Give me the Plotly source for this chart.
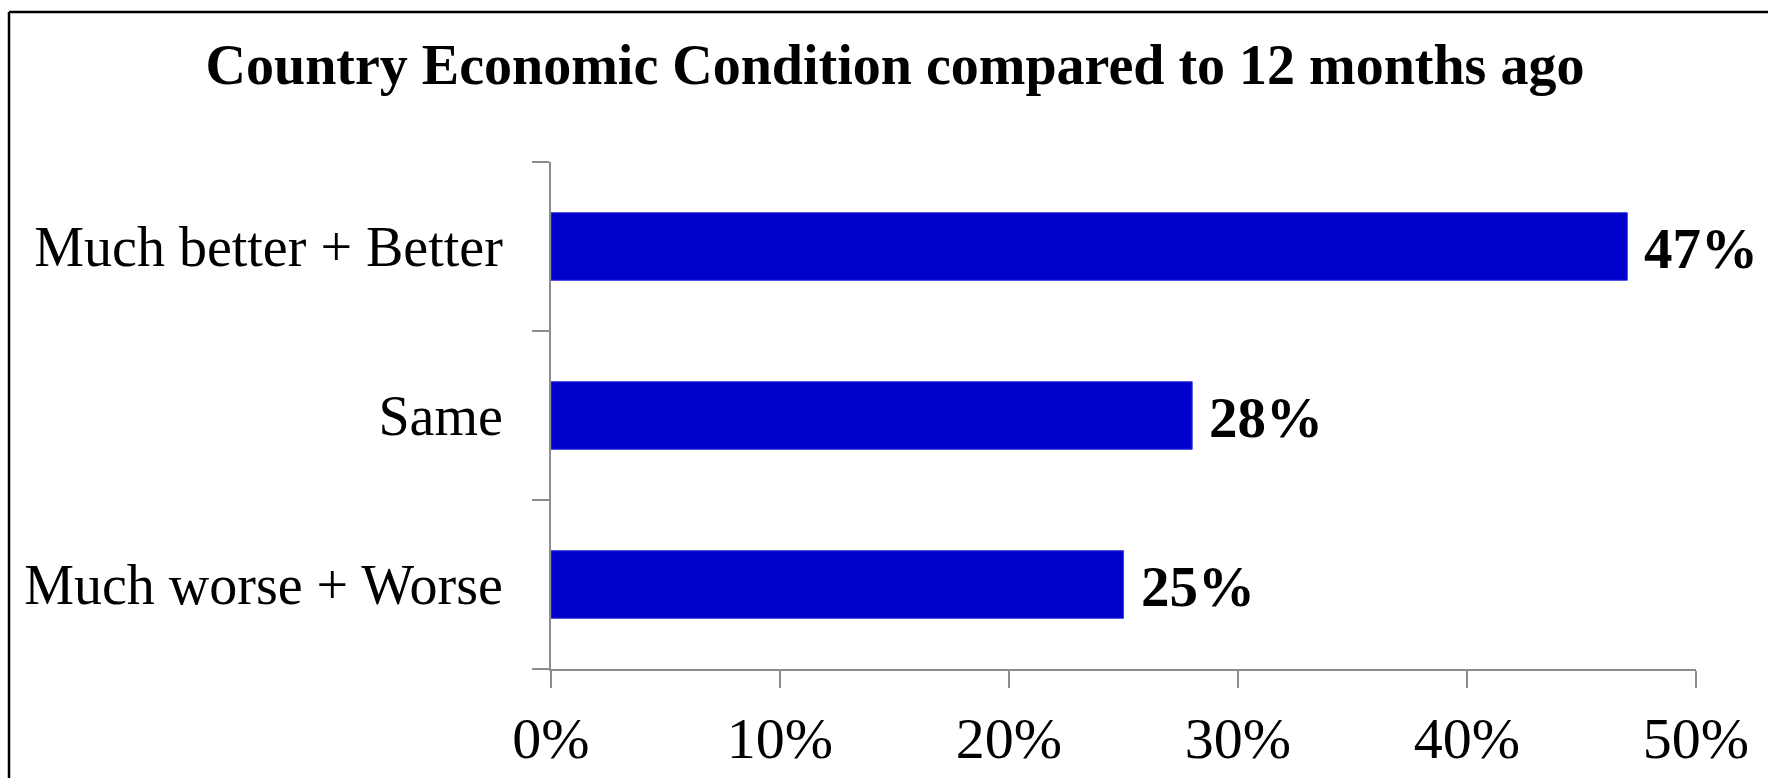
import plotly.graph_objects as go

# Survey result: perceived change in the country's economic condition
categories = ["Much better + Better", "Same", "Much worse + Worse"]
shares = [47, 28, 25]  # percent of respondents
x_ticks = [0, 10, 20, 30, 40, 50]
x_tick_labels = ["0%", "10%", "20%", "30%", "40%", "50%"]

W, H = 1768, 778
L, R, T, B = 551, 72, 162, 109
plot_w = W - L - R
plot_h = H - T - B

BAR_BLUE = "#0000CC"
AXIS_GREY = "#8C8C8C"
SERIF = "Liberation Serif, Times New Roman, serif"

fig = go.Figure(
    go.Bar(
        x=shares,
        y=categories,
        orientation="h",
        marker=dict(color=BAR_BLUE, line=dict(color="#3A3ADF", width=1)),
        width=0.4,
        hoverinfo="skip",
    )
)

# Value labels just past the end of each bar
for cat, v in zip(categories, shares):
    fig.add_annotation(
        x=v, y=cat, xref="x", yref="y",
        text=f"<b>{v}%</b>", showarrow=False,
        xanchor="left", yanchor="middle", xshift=15, yshift=-2,
        font=dict(family=SERIF, size=57, color="black"),
    )

# Outer frame of the chart area: only its left and top edges fall on the canvas
def px_to_paper_x(px):
    return (px - L) / plot_w

def px_to_paper_y(py):
    return (H - B - py) / plot_h

frame = dict(type="line", xref="paper", yref="paper",
             line=dict(color="black", width=2.5), layer="above")
fig.add_shape(**frame, x0=px_to_paper_x(9), x1=px_to_paper_x(9),
              y0=px_to_paper_y(H), y1=px_to_paper_y(12))
fig.add_shape(**frame, x0=px_to_paper_x(9), x1=px_to_paper_x(W),
              y0=px_to_paper_y(12), y1=px_to_paper_y(12))

fig.update_layout(
    width=W, height=H,
    margin=dict(l=L, r=R, t=T, b=B, pad=0, autoexpand=False),
    paper_bgcolor="white", plot_bgcolor="white",
    showlegend=False,
    title=dict(
        text="<b>Country Economic Condition compared to 12 months ago</b>",
        x=895 / W, xref="container", xanchor="center",
        y=1 - 64 / H, yref="container", yanchor="middle",
        font=dict(family=SERIF, size=56, color="black"),
    ),
    xaxis=dict(
        range=[0, 50], tickvals=x_ticks, ticktext=x_tick_labels,
        showgrid=False, zeroline=False, automargin=False,
        showline=True, linecolor=AXIS_GREY, linewidth=2,
        ticks="outside", ticklen=17, tickwidth=2, tickcolor=AXIS_GREY,
        tickfont=dict(family=SERIF, size=58, color="black"),
        ticklabelstandoff=0,
    ),
    yaxis=dict(
        categoryorder="array", categoryarray=categories[::-1],
        tickson="boundaries", automargin=False,
        showgrid=False, zeroline=False,
        showline=True, linecolor=AXIS_GREY, linewidth=2,
        ticks="outside", ticklen=17, tickwidth=2, tickcolor=AXIS_GREY,
        tickfont=dict(family=SERIF, size=56, color="black"),
        ticklabelstandoff=35,
    ),
)

fig.write_html("out.html")
